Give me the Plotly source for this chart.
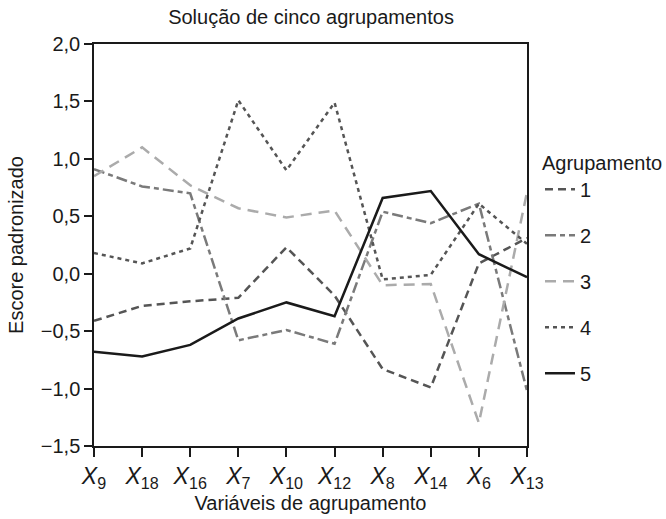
import plotly.graph_objects as go

# Clustering variables (subscripts of X) in display order
variables = ["9", "18", "16", "7", "10", "12", "8", "14", "6", "13"]

# Standardized cluster profile scores per cluster
cluster_1 = [-0.41, -0.28, -0.24, -0.21, 0.23, -0.19, -0.83, -0.99, 0.09, 0.31]
cluster_2 = [0.91, 0.76, 0.70, -0.58, -0.49, -0.61, 0.54, 0.44, 0.61, -1.02]
cluster_3 = [0.85, 1.10, 0.77, 0.57, 0.49, 0.55, -0.10, -0.09, -1.30, 0.71]
cluster_4 = [0.18, 0.09, 0.22, 1.51, 0.90, 1.49, -0.05, -0.01, 0.61, 0.26]
cluster_5 = [-0.68, -0.72, -0.62, -0.39, -0.25, -0.37, 0.66, 0.72, 0.17, -0.03]

cluster_names = ["1", "2", "3", "4", "5"]
y_ticks = [-1.5, -1.0, -0.5, 0.0, 0.5, 1.0, 1.5, 2.0]

x_labels = [f"<i>X</i><sub>{v}</sub>" for v in variables]
x_pos = list(range(len(variables)))

styles = [
    dict(color="#555555", dash="8px,5px"),
    dict(color="#7a7a7a", dash="11px,4px,5px,4px"),
    dict(color="#ababab", dash="11px,7px"),
    dict(color="#555555", dash="4px,4px"),
    dict(color="#1a1a1a", dash="solid"),
]
series = [cluster_1, cluster_2, cluster_3, cluster_4, cluster_5]

font = "Liberation Sans, Arial, Helvetica, sans-serif"

fig = go.Figure()
for name, values, st in zip(cluster_names, series, styles):
    fig.add_trace(go.Scatter(
        x=x_pos, y=values, mode="lines", name=name, legendgroup=name,
        line=dict(color=st["color"], dash=st["dash"], width=2.5),
    ))

def fmt(v):
    s = f"{abs(v):.1f}".replace(".", ",")
    return ("\u2212" + s) if v < 0 else s

fig.update_layout(
    width=666, height=519,
    margin=dict(l=94, r=139, t=44, b=73, autoexpand=False),
    paper_bgcolor="white", plot_bgcolor="white",
    font=dict(family=font, size=20, color="#1a1a1a"),
    title=dict(text="Solução de cinco agrupamentos", x=0.467, xanchor="center",
               y=0.967, yanchor="middle", font=dict(size=20)),
    showlegend=True,
    legend=dict(
        title=dict(text="Agrupamento", font=dict(size=20)),
        x=1.03, xanchor="left", y=0.752, yanchor="top",
        font=dict(size=20), tracegroupgap=17, itemwidth=30,
        bgcolor="rgba(0,0,0,0)",
    ),
)

fig.update_xaxes(
    range=[0, len(variables) - 1], tickvals=x_pos, ticktext=x_labels,
    showline=True, linecolor="#1a1a1a", linewidth=1.5, mirror=True,
    ticks="outside", ticklen=9, tickcolor="#1a1a1a", tickwidth=1.5,
    showgrid=False, zeroline=False, tickfont=dict(size=23),
    title=dict(text="Variáveis de agrupamento", font=dict(size=20), standoff=4),
)
fig.update_yaxes(
    range=[-1.5, 2.0], tickvals=y_ticks, ticktext=[fmt(v) for v in y_ticks],
    showline=True, linecolor="#1a1a1a", linewidth=1.5, mirror=True,
    ticks="outside", ticklen=8, tickcolor="#1a1a1a", tickwidth=1.5,
    showgrid=False, zeroline=False, tickfont=dict(size=20),
    title=dict(text="Escore padronizado", font=dict(size=20), standoff=12),
)

fig.write_html("out.html")
